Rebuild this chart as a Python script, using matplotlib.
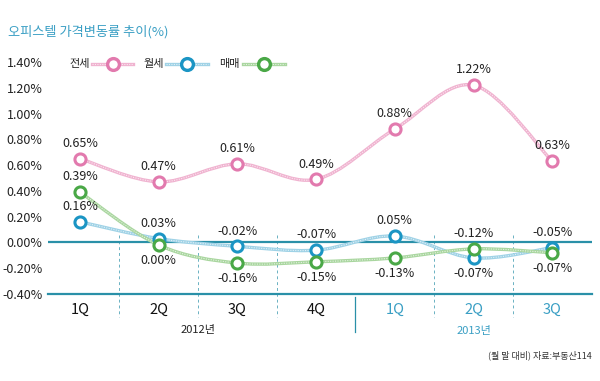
import matplotlib
matplotlib.use("Agg")
import matplotlib.pyplot as plt
from matplotlib.path import Path
from matplotlib.patches import PathPatch
from matplotlib.lines import Line2D
import numpy as np

plt.rcParams['font.family'] = ['Noto Sans CJK KR', 'DejaVu Sans']

quarters = ['1Q', '2Q', '3Q', '4Q', '1Q', '2Q', '3Q']
years = ['2012년', '2013년']
yticks = [1.40, 1.20, 1.00, 0.80, 0.60, 0.40, 0.20, 0.00, -0.20, -0.40]

jeonse = [0.65, 0.47, 0.61, 0.49, 0.88, 1.22, 0.63]
wolse = [0.16, 0.03, -0.03, -0.06, 0.05, -0.12, -0.04]
maemae = [0.39, -0.02, -0.16, -0.15, -0.12, -0.05, -0.08]

jeonse_labels = ['0.65%', '0.47%', '0.61%', '0.49%', '0.88%', '1.22%', '0.63%']
wolse_labels = ['0.16%', '0.03%', '-0.02%', '-0.07%', '0.05%', '-0.07%', '-0.05%']
maemae_labels = ['0.39%', '0.00%', '-0.16%', '-0.15%', '-0.13%', '-0.12%', '-0.07%']
wolse_pos = [1, 1, 1, 1, 1, -1, 1]
maemae_pos = [1, -1, -1, -1, -1, 1, -1]

PINK, PINK_L = '#e27aae', '#f0b3d0'
BLUE, BLUE_L = '#1b95c4', '#9fd2e6'
GREEN, GREEN_L = '#4aa847', '#a9d69f'
TEAL = '#2a90a8'
TITLE_C = '#3a9fc4'

fig = plt.figure(figsize=(6, 3.81), dpi=100)
W, H = 600, 381
def fx(px): return px / W
def fy(py): return 1 - py / H

ax = fig.add_axes([fx(48), fy(294), fx(592) - fx(48), (294 - 62) / H])
ax.set_ylim(-0.40, 1.40)
sp = 78.7
ax.set_xlim(-(80 - 48) / sp, (592 - 80) / sp)
for s in ax.spines.values():
    s.set_visible(False)
ax.set_xticks([])
ax.set_yticks(yticks)
ax.set_yticklabels(['%.2f%%' % v for v in yticks], fontsize=9, color='#222222')
ax.tick_params(axis='y', length=0, pad=4)

def pxy(py):
    return 1.40 - (py - 62) / ((294 - 62) / 1.80)

x = np.arange(len(quarters))

ax.axhline(0, color=TEAL, lw=1.6, zorder=2)
ax.axhline(-0.40, color=TEAL, lw=1.6, zorder=2, clip_on=False)

for xs in [0.5, 1.5, 2.5, 4.5, 5.5]:
    ax.plot([xs, xs], [pxy(235), pxy(317)], color=TEAL, lw=0.7,
            ls=(0, (3, 3)), clip_on=False, zorder=1, alpha=0.7)
ax.plot([3.5, 3.5], [pxy(297), pxy(332)], color=TEAL, lw=0.9, clip_on=False, zorder=1)

for i, q in enumerate(quarters):
    ax.text(i, pxy(310), q, ha='center', va='center', fontsize=10.5, fontweight='medium',
            color='#111111' if i < 4 else TITLE_C, clip_on=False)
ax.text(1.5, pxy(330), years[0], ha='center', va='center', fontsize=8, color='#222222')
ax.text(5.0, pxy(331), years[1], ha='center', va='center', fontsize=8, color=TITLE_C)

def smooth(xv, yv):
    pts = np.column_stack([xv, yv]).astype(float)
    n = len(pts)
    verts = [pts[0]]
    codes = [Path.MOVETO]
    for i in range(n - 1):
        p0 = pts[max(i - 1, 0)]
        p1 = pts[i]
        p2 = pts[i + 1]
        p3 = pts[min(i + 2, n - 1)]
        c1 = p1 + (p2 - p0) / 6
        c2 = p2 - (p3 - p1) / 6
        verts += [c1, c2, p2]
        codes += [Path.CURVE4] * 3
    return Path(verts, codes)

def draw_series(vals, col, light):
    path = smooth(x, vals)
    ax.add_patch(PathPatch(path, fc='none', ec=light, lw=2.4, zorder=3))
    ax.add_patch(PathPatch(path, fc='none', ec='white', lw=0.8, ls=(0, (1, 1.2)), zorder=3, alpha=0.7))
    ax.plot(x, vals, ls='none', marker='o', ms=8, mfc='white', mec=col, mew=2.2, zorder=5)

draw_series(jeonse, PINK, PINK_L)
draw_series(wolse, BLUE, BLUE_L)
draw_series(maemae, GREEN, GREEN_L)

def label(vals, labels, pos):
    for i, (v, t, p) in enumerate(zip(vals, labels, pos)):
        ax.annotate(t, (i, v), xytext=(0, 11 * p), textcoords='offset points',
                    ha='center', va='center', fontsize=9, color='#222222', zorder=6)

label(jeonse, jeonse_labels, [1] * 7)
label(wolse, wolse_labels, wolse_pos)
label(maemae, maemae_labels, maemae_pos)

fig.text(fx(8), fy(32), '오피스텔 가격변동률 추이(%)', fontsize=9.5, color=TITLE_C,
         ha='left', va='center')

legend_items = [('전세', PINK, PINK_L, 69, 92, 133),
                ('월세', BLUE, BLUE_L, 144, 166, 208),
                ('매매', GREEN, GREEN_L, 219, 243, 285)]
for name, col, light, tx, l0, l1 in legend_items:
    fig.text(fx(tx), fy(64), name, fontsize=8, color='#222222', ha='left', va='center')
    fig.add_artist(Line2D([fx(l0), fx(l1)], [fy(64), fy(64)], color=light, lw=2.4))
    fig.add_artist(Line2D([fx(l0), fx(l1)], [fy(64), fy(64)], color='white', lw=0.8,
                          ls=(0, (1, 1.2)), alpha=0.7))
    fig.add_artist(Line2D([fx((l0 + l1) / 2)], [fy(64)], ls='none', marker='o', ms=8.5,
                          mfc='white', mec=col, mew=2.4))

fig.text(fx(592), fy(355), '(월 말 대비) 자료:부동산114', fontsize=6.5, color='#333333',
         ha='right', va='center')

fig.savefig('out.png', dpi=100)
